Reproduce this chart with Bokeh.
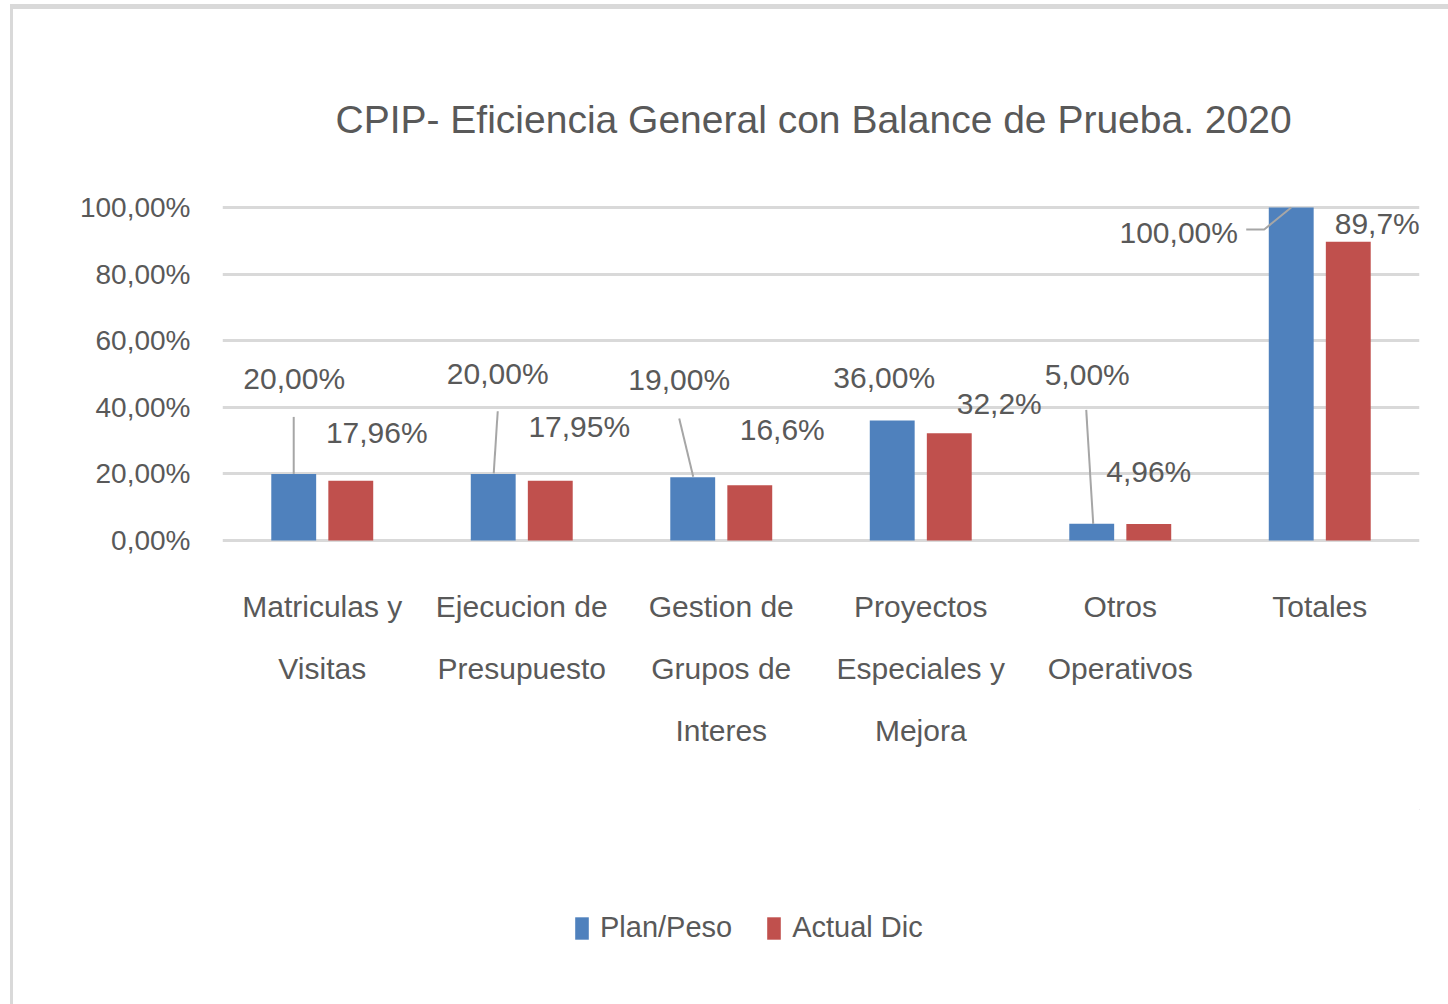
from bokeh.plotting import figure
from bokeh.layouts import column
from bokeh.models import ColumnDataSource, Range1d, FactorRange, LabelSet, Legend, LegendItem, FixedTicker
from bokeh.core.properties import value
from bokeh.transform import dodge
from bokeh.embed import file_html
from bokeh.resources import INLINE

# ---------------- data ----------------
categories = ["Matriculas y\nVisitas", "Ejecucion de\nPresupuesto", "Gestion de\nGrupos de\nInteres",
              "Proyectos\nEspeciales y\nMejora", "Otros\nOperativos", "Totales"]
plan = [0.20, 0.20, 0.19, 0.36, 0.05, 1.00]
actual = [0.1796, 0.1795, 0.166, 0.322, 0.0496, 0.897]
plan_labels = ["20,00%", "20,00%", "19,00%", "36,00%", "5,00%", "100,00%"]
actual_labels = ["17,96%", "17,95%", "16,6%", "32,2%", "4,96%", "89,7%"]
y_ticks = [0, 0.2, 0.4, 0.6, 0.8, 1.0]
y_tick_labels = ["0,00%", "20,00%", "40,00%", "60,00%", "80,00%", "100,00%"]
series_names = ["Plan/Peso", "Actual Dic"]

# ---------------- layout / style ----------------
FONT = "Liberation Sans"
TXT = "#595959"
BLUE = "#4F81BD"
RED = "#C0504D"
OFF_X, OFF_Y = 13, 9          # page frame border (light blue + grey) around the chart
W, H = 1435, 800
LEG_H = 195
ML, MT = 222 - OFF_X, 197 - OFF_Y
FRAME_W, FRAME_H = 1197, 353
MR = W - ML - FRAME_W
MB = H - MT - FRAME_H
YMIN, YMAX = -0.03, 1.03
PXX = FRAME_W / len(categories)          # pixels per category
PXY = FRAME_H / (YMAX - YMIN)            # pixels per unit value
DODGE = 0.143
BAR_W = 0.225

# data-label offsets (pixels, relative to bar top centre, up positive)
plan_dx = [0.5, 4.5, -13.5, -8, -4.5, -112.5]
plan_dy = [95, 100, 97.7, 43, 149, -25]
act_dx = [26, 29, 32.5, 50, 0, 29]
act_dy = [48.5, 54.7, 56, 30, 52.5, 18.5]
# leader lines for plan labels (pixel offsets from blue bar top centre)
leaders = {0: [(0, 57), (0, 0)], 1: [(4.5, 62.7), (0.5, 0.5)], 2: [(-13.5, 58.7), (0.5, 0.5)],
           4: [(-5.5, 114), (1.5, 0)], 5: [(-45, -22), (-27, -22), (0, 0)]}

p = figure(x_range=FactorRange(*categories, range_padding=0), y_range=Range1d(YMIN, YMAX),
           width=W, height=H, output_backend="svg", toolbar_location=None,
           min_border_left=ML, min_border_right=MR, min_border_top=MT, min_border_bottom=MB,
           background_fill_color="white", border_fill_color="white", outline_line_color=None)

src = ColumnDataSource(dict(cat=categories, plan=plan, actual=actual,
                            plan_lab=plan_labels, act_lab=actual_labels,
                            pdx=plan_dx, pdy=plan_dy, adx=act_dx, ady=act_dy))

r1 = p.vbar(x=dodge("cat", -DODGE, range=p.x_range), top="plan", bottom=0, width=BAR_W, source=src,
            fill_color=BLUE, line_color=None)
r2 = p.vbar(x=dodge("cat", DODGE, range=p.x_range), top="actual", bottom=0, width=BAR_W, source=src,
            fill_color=RED, line_color=None)

# leader lines
xs, ys = [], []
for i, pts in leaders.items():
    cx = i + 0.5 - DODGE
    xs.append([cx + dx / PXX for dx, dy in pts])
    ys.append([plan[i] + dy / PXY for dx, dy in pts])
p.multi_line(xs=xs, ys=ys, line_color="#A6A6A6", line_width=2)

lab_kw = dict(text_font=value(FONT), text_font_size=value("30px"), text_color=TXT, text_align="center",
              text_baseline="middle")
p.add_layout(LabelSet(x=dodge("cat", -DODGE, range=p.x_range), y="plan", text="plan_lab",
                      x_offset="pdx", y_offset="pdy", source=src, **lab_kw))
p.add_layout(LabelSet(x=dodge("cat", DODGE, range=p.x_range), y="actual", text="act_lab",
                      x_offset="adx", y_offset="ady", source=src, **lab_kw))

# axes & grid
p.yaxis.ticker = FixedTicker(ticks=y_ticks)
p.yaxis.major_label_overrides = {t: l for t, l in zip(y_ticks, y_tick_labels)}
p.yaxis.axis_line_color = None
p.yaxis.major_tick_line_color = None
p.yaxis.minor_tick_line_color = None
p.yaxis.major_label_standoff = 26
p.yaxis.major_label_text_font = FONT
p.yaxis.major_label_text_font_size = "28px"
p.yaxis.major_label_text_color = TXT

p.xaxis.axis_line_color = None
p.xaxis.major_tick_line_color = None
p.xaxis.major_label_standoff = 33
p.xaxis.major_label_text_font = FONT
p.xaxis.major_label_text_font_size = "30px"
p.xaxis.major_label_text_color = TXT
p.xaxis.major_label_text_line_height = 1.89

p.xgrid.grid_line_color = None
p.ygrid.ticker = FixedTicker(ticks=y_ticks)
p.ygrid.grid_line_color = "#D9D9D9"
p.ygrid.grid_line_width = 3

# title
p.title.text = "CPIP- Eficiencia General con Balance de Prueba. 2020"
p.title.text_font = FONT
p.title.text_font_size = "39px"
p.title.text_font_style = "normal"
p.title.text_color = TXT
p.title.align = "left"
p.title.offset = 113
p.title.standoff = 113

# legend in a strip figure below the chart (swatch renderers sit far outside the visible range)
lf = figure(width=W, height=LEG_H, output_backend="svg", toolbar_location=None,
            x_range=Range1d(0, 1), y_range=Range1d(0, 1),
            min_border_left=0, min_border_right=0, min_border_top=0, min_border_bottom=0,
            background_fill_color="white", border_fill_color="white", outline_line_color=None)
lf.axis.visible = False
lf.grid.visible = False
l1 = lf.vbar(x=[50], bottom=[50], top=[51], width=0.1, fill_color=BLUE, line_color=None)
l2 = lf.vbar(x=[50], bottom=[50], top=[51], width=0.1, fill_color=RED, line_color=None)
legend = Legend(items=[LegendItem(label=series_names[0], renderers=[l1]),
                       LegendItem(label=series_names[1], renderers=[l2])],
                orientation="horizontal", location=(351, 60),
                label_text_font=FONT, label_text_font_size="29px", label_text_color=TXT,
                glyph_width=17, glyph_height=28, label_height=28, label_standoff=10, spacing=33,
                padding=0, margin=0, border_line_color=None, background_fill_alpha=0)
lf.add_layout(legend, "center")

layout = column(p, lf, spacing=0,
                styles={"border-left": "3px solid #D9D9D9", "border-top": "5px solid #D9D9D9",
                        "margin-left": "10px", "margin-top": "4px"})
open("out.html", "w").write(file_html(layout, INLINE))
